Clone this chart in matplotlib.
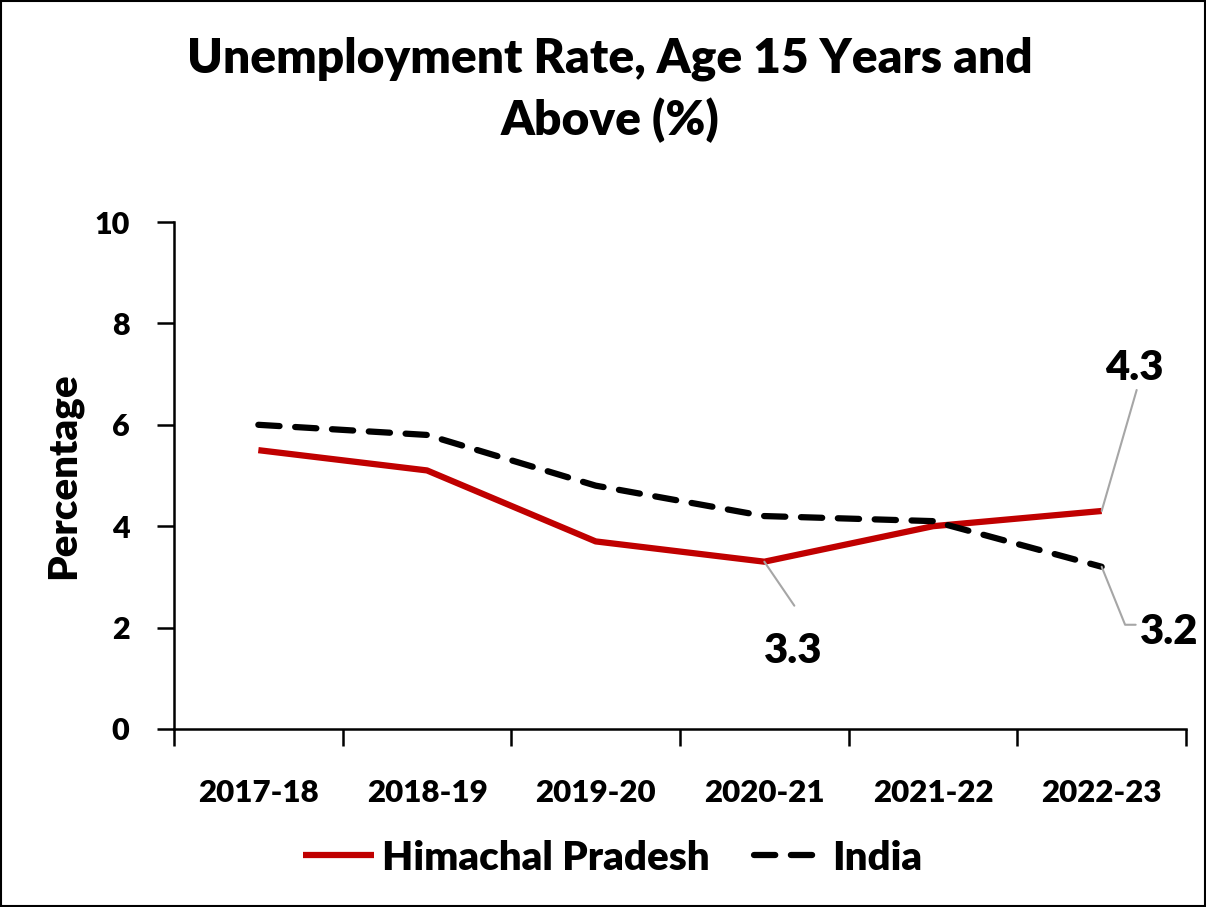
import matplotlib
matplotlib.use("Agg")
import matplotlib.pyplot as plt
from matplotlib.patches import Rectangle

years = ["2017-18", "2018-19", "2019-20", "2020-21", "2021-22", "2022-23"]
himachal = [5.5, 5.1, 3.7, 3.3, 4.0, 4.3]
india = [6.0, 5.8, 4.8, 4.2, 4.1, 3.2]
yticks = [0, 2, 4, 6, 8, 10]

plt.rcParams['font.family'] = ['Lato', 'DejaVu Sans']
plt.rcParams['font.weight'] = 'heavy'
W = 'heavy'

fig = plt.figure(figsize=(12.06, 9.07), dpi=100)
ax = fig.add_axes([174 / 1206, 1 - 729 / 907, (1186 - 174) / 1206, (729 - 222) / 907])

x = list(range(len(years)))
ax.plot(x, himachal, color='#c00000', lw=4.5, label='Himachal Pradesh', solid_capstyle='butt')
ax.plot(x, india, color='black', lw=4.5, ls=(0, (3.4, 2.5)), label='India', dash_capstyle='round')

ax.set_xlim(-0.5, 5.5)
ax.set_ylim(0, 10)
ax.set_yticks(yticks)
ax.set_yticklabels([str(v) for v in yticks], fontsize=22, fontweight=W)
ax.set_xticks(x)
ax.set_xticklabels(years, fontsize=22.5, fontweight=W)
ax.set_xticks([i - 0.5 for i in range(len(years) + 1)], minor=True)
ax.tick_params(axis='x', which='major', length=0, pad=36)
ax.tick_params(axis='x', which='minor', length=12, width=1.8, direction='out')
ax.tick_params(axis='y', length=12, width=1.8, direction='out', pad=20)
for s in ['top', 'right']:
    ax.spines[s].set_visible(False)
for s in ['left', 'bottom']:
    ax.spines[s].set_linewidth(1.8)

ax.set_ylabel('Percentage', fontsize=29, fontweight=W)
ax.yaxis.set_label_coords((82 - 174) / (1186 - 174), (729 - 476) / (729 - 222))

# data labels with grey leader lines (offsets in pixels from the data point)
grey = '#a6a6a6'
line_kw = dict(arrowstyle='-', color=grey, lw=1.5, shrinkA=0, shrinkB=0)
labels = [
    (3, himachal[3], '3.3', (30, -44), None, (29, -89)),
    (5, himachal[5], '4.3', (35, 121), None, (33, 143)),
    (5, india[5], '3.2', (23, -58), (34, -58), (68, -65)),
]
for xi, yi, txt, bend, tail, toff in labels:
    if tail is None:
        ax.annotate('', xy=(xi, yi), xytext=bend, textcoords='offset pixels', arrowprops=line_kw)
    else:
        ax.annotate('', xy=(xi, yi), xytext=tail, textcoords='offset pixels',
                    arrowprops=dict(line_kw, connectionstyle='angle,angleA=0,angleB=112,rad=0'))
    ax.annotate(txt, xy=(xi, yi), xytext=toff, textcoords='offset pixels', fontsize=30,
                fontweight=W, ha='center', va='center')

fig.text(0.506, 0.901, 'Unemployment Rate, Age 15 Years and\nAbove (%)', ha='center', va='center',
         fontsize=34.5, fontweight=W, linespacing=1.45)

ax.legend(loc='center', bbox_to_anchor=(613 / 1206, 1 - 858 / 907), bbox_transform=fig.transFigure,
          ncol=2, frameon=False, fontsize=29, handlelength=1.75, columnspacing=1.1, handletextpad=0.2)

fig.patches.append(Rectangle((0.001, 0.001), 0.998, 0.998, transform=fig.transFigure,
                             fill=False, edgecolor='black', lw=1.5))

fig.savefig('out.png', dpi=100)
